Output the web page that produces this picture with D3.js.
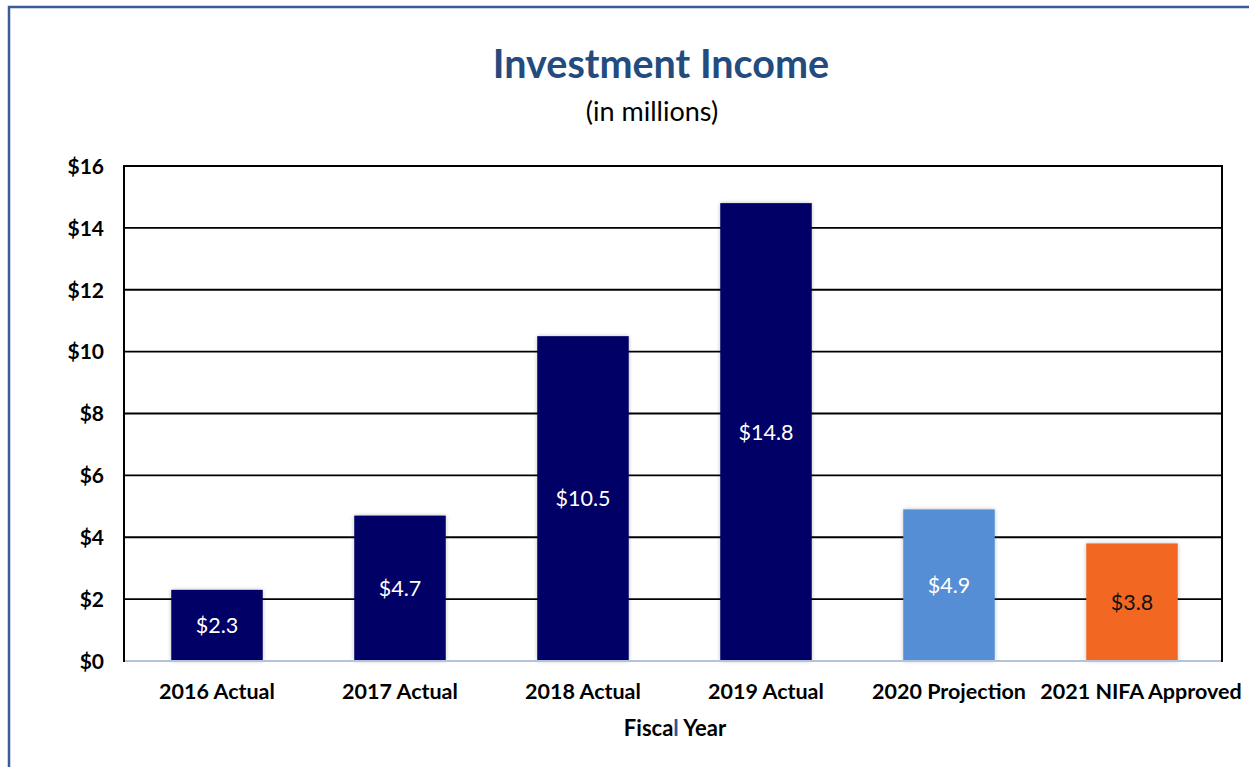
<!DOCTYPE html>
<html lang="en">
  <head>
    <meta charset="utf-8">
    <title>Investment Income</title>
    <script src="https://d3js.org/d3.v7.min.js"></script>
    <style>
      body { margin: 0; background: #fff; }
      text { font-family: Lato, "Open Sans", sans-serif; }
    </style>
  </head>
  <body>
    <svg width="1249" height="767"></svg>
    <script type="text/javascript">
      // chart data
      var categories = ["2016 Actual", "2017 Actual", "2018 Actual", "2019 Actual", "2020 Projection", "2021 NIFA Approved"];
      var values = [2.3, 4.7, 10.5, 14.8, 4.9, 3.8];
      var barColors = ["#000066", "#000066", "#000066", "#000066", "#558ED5", "#F26722"];
      var labelColors = ["#fff", "#fff", "#fff", "#fff", "#fff", "#111"];
      var yTicks = [0, 2, 4, 6, 8, 10, 12, 14, 16];

      var svg = d3.select("svg");

      // outer frame (runs off the right and bottom edges)
      svg.append("rect")
          .attr("x", 9).attr("y", 7)
          .attr("width", 1300).attr("height", 800)
          .attr("fill", "none")
          .attr("stroke", "#3A5D96")
          .attr("stroke-width", 2.5);

      var plotL = 124, plotR = 1222, plotT = 166, plotB = 661;

      var x = d3.scaleBand()
          .domain(categories)
          .range([plotL, plotR])
          .paddingInner(0.5)
          .paddingOuter(0.25);

      var y = d3.scaleLinear()
          .domain([0, 16])
          .range([plotB, plotT]);

      // gridlines
      svg.append("g")
        .selectAll("line")
        .data(yTicks.filter(function(d) { return d > 0; }))
        .enter().append("line")
          .attr("x1", plotL).attr("x2", plotR)
          .attr("y1", function(d) { return y(d); })
          .attr("y2", function(d) { return y(d); })
          .attr("stroke", "#000")
          .attr("stroke-width", 1.8);

      // plot border
      svg.append("rect")
          .attr("x", plotL).attr("y", plotT)
          .attr("width", plotR - plotL).attr("height", plotB - plotT)
          .attr("fill", "none")
          .attr("stroke", "#000")
          .attr("stroke-width", 2);

      // soft shadow for bars
      var defs = svg.append("defs");
      var f = defs.append("filter").attr("id", "shadow")
          .attr("x", "-10%").attr("y", "-10%").attr("width", "120%").attr("height", "120%");
      f.append("feGaussianBlur").attr("in", "SourceAlpha").attr("stdDeviation", 2);
      f.append("feComponentTransfer").append("feFuncA").attr("type", "linear").attr("slope", 0.25);
      var m = f.append("feMerge");
      m.append("feMergeNode");
      m.append("feMergeNode").attr("in", "SourceGraphic");

      var bars = svg.append("g");
      bars.selectAll("rect")
        .data(values)
        .enter().append("rect")
          .attr("x", function(d, i) { return x(categories[i]) + 1.5; })
          .attr("y", function(d) { return y(d); })
          .attr("width", x.bandwidth())
          .attr("height", function(d) { return plotB - y(d); })
          .attr("fill", function(d, i) { return barColors[i]; })
          .attr("filter", "url(#shadow)");

      // baseline
      svg.append("line")
          .attr("x1", plotL + 1).attr("x2", plotR - 1)
          .attr("y1", plotB).attr("y2", plotB)
          .attr("stroke", "#B4C3DC")
          .attr("stroke-width", 2);

      // value labels
      bars.selectAll("text")
        .data(values)
        .enter().append("text")
          .attr("x", function(d, i) { return x(categories[i]) + 1.5 + x.bandwidth() / 2; })
          .attr("y", function(d) { return (y(d) + plotB) / 2; })
          .attr("dy", "0.35em")
          .attr("text-anchor", "middle")
          .attr("font-size", 21.5)
          .attr("fill", function(d, i) { return labelColors[i]; })
          .text(function(d) { return "$" + d.toFixed(1); });

      // y axis
      var yAxis = svg.append("g")
          .attr("transform", "translate(" + (plotL - 20) + ",0)")
          .call(d3.axisLeft(y).tickValues(yTicks).tickSize(0).tickFormat(function(d) { return "$" + d; }));
      yAxis.select(".domain").remove();
      yAxis.selectAll("text")
          .attr("font-family", "Lato, sans-serif")
          .attr("font-size", 21)
          .attr("font-weight", "bold")
          .attr("fill", "#000")
          .attr("x", 0)
          .attr("dy", "0.35em");

      // x axis
      var xAxis = svg.append("g")
          .attr("transform", "translate(1.5," + (plotB + 30) + ")")
          .call(d3.axisBottom(x).tickSize(0));
      xAxis.select(".domain").remove();
      xAxis.selectAll("text")
          .attr("font-family", "Lato, sans-serif")
          .attr("font-size", 21.5)
          .attr("font-weight", "bold")
          .attr("fill", "#000")
          .attr("dy", "0.35em")
          .attr("y", 0)
          // last label is nudged right, as in the original, to clear its neighbour
          .attr("dx", function(d, i) { return i === categories.length - 1 ? 9 : 0; });

      // titles
      svg.append("text")
          .attr("x", 661).attr("y", 64)
          .attr("dy", "0.35em")
          .attr("text-anchor", "middle")
          .attr("font-size", 39.5)
          .attr("font-weight", "bold")
          .attr("fill", "#234B7E")
          .text("Investment Income");

      svg.append("text")
          .attr("x", 652).attr("y", 112)
          .attr("dy", "0.35em")
          .attr("text-anchor", "middle")
          .attr("font-size", 27)
          .attr("fill", "#000")
          .text("(in millions)");

      var xt = svg.append("text")
          .attr("x", 675).attr("y", 728)
          .attr("dy", "0.35em")
          .attr("text-anchor", "middle")
          .attr("font-size", 22)
          .attr("font-weight", "bold")
          .attr("fill", "#000");
      xt.append("tspan").text("Fisca");
      xt.append("tspan").attr("fill", "#2F5597").text("l");
      xt.append("tspan").text(" Year");
    </script>
  </body>
</html>
